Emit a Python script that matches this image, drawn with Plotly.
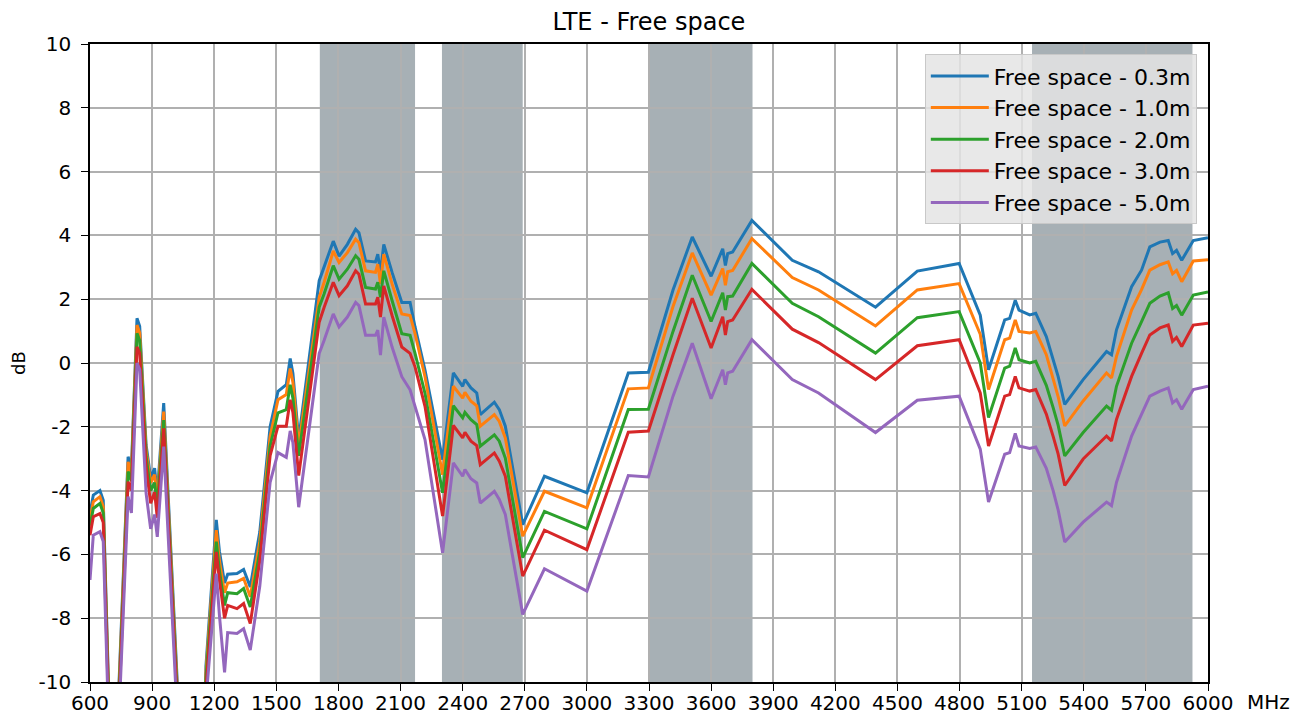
import plotly.graph_objects as go

# Frequency grid (MHz) shared by all measurement series
FREQ = [600, 616, 648, 664, 700, 728, 784, 800, 827, 840,
        871, 893, 912, 925, 956, 1040, 1150, 1160, 1210, 1225,
        1250, 1265, 1310, 1342, 1374, 1420, 1470, 1508, 1548, 1567,
        1580, 1608, 1707, 1731, 1775, 1803, 1843, 1883, 1899, 1931,
        1979, 1990, 2003, 2019, 2059, 2106, 2146, 2170, 2218, 2303,
        2355, 2400, 2411, 2440, 2468, 2485, 2553, 2577, 2606, 2690,
        2795, 3000, 3200, 3297, 3416, 3509, 3600, 3656, 3669, 3680,
        3704, 3797, 3992, 4119, 4394, 4596, 4798, 4900, 4940, 5018,
        5042, 5069, 5087, 5139, 5168, 5219, 5252, 5276, 5308, 5397,
        5510, 5534, 5558, 5631, 5679, 5719, 5768, 5808, 5829, 5848,
        5873, 5929, 6000]

FS_03 = [-4.7, -4.14, -4.0, -4.3, -12.5, -12.0, -2.94, -3.3, 1.40, 1.15,
         -2.57, -3.6, -3.3, -4.1, -1.26, -12.5, -12.5, -9.5, -4.92, -5.9,
         -6.9, -6.62, -6.6, -6.47, -7.02, -5.3, -2.0, -0.89, -0.68, 0.14,
         -0.32, -2.4, 2.58, 3.0, 3.82, 3.35, 3.72, 4.19, 4.08, 3.2,
         3.17, 3.41, 2.84, 3.72, 2.84, 1.9, 1.9, 1.13, -0.22, -3.03,
         -0.31, -0.73, -0.52, -0.78, -0.94, -1.62, -1.23, -1.46, -1.98, -5.07,
         -3.55, -4.07, -0.31, -0.29, 2.29, 3.95, 2.72, 3.58, 3.06, 3.43,
         3.48, 4.47, 3.22, 2.86, 1.75, 2.88, 3.12, 1.5, -0.21, 1.35,
         1.4, 1.97, 1.66, 1.51, 1.56, 0.83, 0.1, -0.42, -1.3, -0.52,
         0.36, 0.26, 1.04, 2.39, 2.91, 3.64, 3.79, 3.84, 3.43, 3.53,
         3.22, 3.84, 3.93]

FS_10 = [-4.9, -4.35, -4.19, -4.5, -12.7, -12.2, -3.1, -3.45, 1.19, 0.95,
         -2.73, -3.75, -3.5, -4.3, -1.52, -12.7, -12.7, -9.7, -5.24, -6.2,
         -7.2, -6.9, -6.86, -6.75, -7.33, -5.6, -2.3, -1.15, -0.99, -0.17,
         -0.6, -2.6, 2.06, 2.53, 3.51, 3.15, 3.46, 3.88, 3.77, 2.89,
         2.84, 3.1, 2.48, 3.41, 2.48, 1.54, 1.49, 0.92, -0.43, -3.5,
         -0.73, -1.1, -0.92, -1.2, -1.34, -1.98, -1.62, -1.83, -2.35, -5.43,
         -4.02, -4.54, -0.81, -0.78, 1.77, 3.45, 2.13, 2.96, 2.44, 2.86,
         2.9, 3.9, 2.68, 2.29, 1.16, 2.29, 2.49, 0.9, -0.83, 0.73,
         0.78, 1.35, 0.99, 0.94, 0.99, 0.26, -0.5, -1.05, -1.97, -1.19,
         -0.31, -0.47, 0.21, 1.66, 2.3, 2.91, 3.08, 3.17, 2.8, 2.9,
         2.55, 3.2, 3.24]

FS_20 = [-5.1, -4.56, -4.4, -4.7, -12.9, -12.4, -3.4, -3.7, 0.93, 0.7,
         -2.94, -4.0, -3.75, -4.5, -1.79, -12.9, -12.9, -9.9, -5.6, -6.5,
         -7.6, -7.2, -7.23, -7.07, -7.65, -5.9, -2.6, -1.56, -1.46, -0.68,
         -1.1, -2.91, 1.75, 2.17, 3.05, 2.63, 2.94, 3.36, 3.25, 2.37,
         2.32, 2.53, 2.06, 2.89, 1.96, 0.92, 0.87, 0.3, -0.95, -4.07,
         -1.34, -1.72, -1.55, -1.78, -1.93, -2.61, -2.25, -2.45, -2.98, -6.1,
         -4.65, -5.2, -1.46, -1.45, 0.99, 2.75, 1.3, 2.2, 1.66, 2.08,
         2.1, 3.12, 1.87, 1.45, 0.31, 1.42, 1.61, 0.0, -1.71, -0.16,
         -0.1, 0.47, 0.1, 0.0, 0.05, -0.7, -1.4, -1.95, -2.91, -2.18,
         -1.35, -1.48, -0.73, 0.62, 1.3, 1.87, 2.1, 2.2, 1.71, 1.8,
         1.5, 2.13, 2.23]

FS_30 = [-5.4, -4.82, -4.72, -5.0, -13.1, -12.6, -3.72, -4.0, 0.51, 0.3,
         -3.25, -4.4, -4.05, -4.85, -2.05, -13.1, -13.1, -10.2, -5.92, -6.8,
         -8.0, -7.6, -7.7, -7.54, -8.17, -6.2, -2.9, -1.98, -1.98, -1.15,
         -1.55, -3.53, 1.28, 1.75, 2.53, 2.11, 2.42, 2.89, 2.78, 1.85,
         1.85, 2.06, 1.44, 2.42, 1.49, 0.5, 0.3, -0.12, -1.36, -4.8,
         -1.96, -2.35, -2.17, -2.45, -2.59, -3.19, -2.82, -3.08, -3.55, -6.68,
         -5.24, -5.85, -2.17, -2.13, 0.26, 2.03, 0.47, 1.45, 0.88, 1.3,
         1.35, 2.31, 1.06, 0.64, -0.52, 0.54, 0.73, -0.94, -2.6, -1.04,
         -0.99, -0.42, -0.78, -0.88, -0.83, -1.6, -2.3, -2.85, -3.84, -3.01,
         -2.29, -2.44, -1.77, -0.42, 0.3, 0.88, 1.1, 1.19, 0.68, 0.8,
         0.52, 1.19, 1.25]

FS_50 = [-6.8, -5.4, -5.29, -5.6, -13.5, -13.0, -4.19, -4.7, 0.0, -0.2,
         -4.09, -5.2, -4.75, -5.45, -2.62, -13.5, -13.5, -10.6, -6.6, -7.9,
         -9.7, -8.45, -8.48, -8.33, -9.0, -7.0, -3.74, -2.81, -2.96, -2.13,
         -2.5, -4.52, 0.3, 0.71, 1.54, 1.13, 1.44, 1.9, 1.8, 0.87,
         0.87, 1.03, 0.25, 1.44, 0.5, -0.43, -0.84, -1.36, -2.4, -5.95,
         -3.13, -3.55, -3.34, -3.63, -3.76, -4.39, -4.02, -4.28, -4.75, -7.88,
         -6.45, -7.15, -3.53, -3.57, -1.04, 0.62, -1.12, -0.21, -0.68, -0.31,
         -0.26, 0.73, -0.52, -0.94, -2.18, -1.17, -1.04, -2.7, -4.36, -2.86,
         -2.81, -2.21, -2.6, -2.68, -2.63, -3.3, -4.0, -4.6, -5.61, -4.99,
         -4.36, -4.47, -3.74, -2.29, -1.6, -1.04, -0.88, -0.78, -1.25, -1.15,
         -1.45, -0.83, -0.73]

SERIES = [
    ("Free space - 0.3m", FS_03, "#1f77b4"),
    ("Free space - 1.0m", FS_10, "#ff7f0e"),
    ("Free space - 2.0m", FS_20, "#2ca02c"),
    ("Free space - 3.0m", FS_30, "#d62728"),
    ("Free space - 5.0m", FS_50, "#9467bd"),
]

# LTE band ranges highlighted in the background (MHz)
BANDS = [(1710, 2170), (2300, 2690), (3300, 3800), (5150, 5925)]

X_TICKS = list(range(600, 6001, 300))
Y_TICKS = list(range(-10, 11, 2))

FONT = "DejaVu Sans"

fig = go.Figure()
for i, (name, vals, color) in enumerate(SERIES):
    fig.add_trace(go.Scatter(
        x=FREQ, y=vals, mode="lines", name=name,
        legendgroup=f"g{i}",
        line=dict(color=color, width=3),
    ))

for lo, hi in BANDS:
    fig.add_shape(type="rect", xref="x", yref="paper", x0=lo, x1=hi, y0=0, y1=1,
                  fillcolor="rgba(108,124,132,0.6)", line=dict(width=0), layer="between")

axis_common = dict(
    showgrid=True, gridcolor="#b0b0b0", gridwidth=2,
    showline=True, linecolor="black", linewidth=1.5, mirror=True,
    ticks="outside", ticklen=7, tickwidth=1.2, tickcolor="black",
    tickfont=dict(family=FONT, size=20, color="black"),
    zeroline=False, automargin=False,
)

fig.update_xaxes(range=[600, 6000], tickvals=X_TICKS,
                 ticktext=[str(t) for t in X_TICKS], ticklabelstandoff=-5, **axis_common)
fig.update_yaxes(range=[-10, 10], tickvals=Y_TICKS,
                 ticktext=[str(t) for t in Y_TICKS], ticklabelstandoff=6, **axis_common)

fig.add_annotation(text="MHz", xref="paper", yref="paper", x=(1268 - 90) / 1118, y=-20 / 638,
                   xanchor="center", yanchor="middle", showarrow=False,
                   font=dict(family=FONT, size=20, color="black"))
fig.add_annotation(text="dB", xref="paper", yref="paper", x=-0.0644, y=0.5,
                   xanchor="center", yanchor="middle", showarrow=False, textangle=-90,
                   font=dict(family=FONT, size=18, color="black"))

fig.update_layout(
    width=1305, height=720,
    margin=dict(l=90, r=97, t=44, b=38),
    paper_bgcolor="white", plot_bgcolor="white",
    title=dict(text="LTE - Free space", x=(90 + 1208) / 2 / 1305, xanchor="center",
               y=1 - 22 / 720, yanchor="middle", yref="container",
               font=dict(family=FONT, size=24, color="black")),
    legend=dict(x=0.99, y=0.984, xanchor="right", yanchor="top",
                bgcolor="rgba(228,228,228,0.85)", bordercolor="#c8c8c8", borderwidth=1,
                font=dict(family=FONT, size=22, color="black"),
                itemwidth=58, tracegroupgap=0, traceorder="grouped"),
    showlegend=True,
)

fig.write_html("out.html")
